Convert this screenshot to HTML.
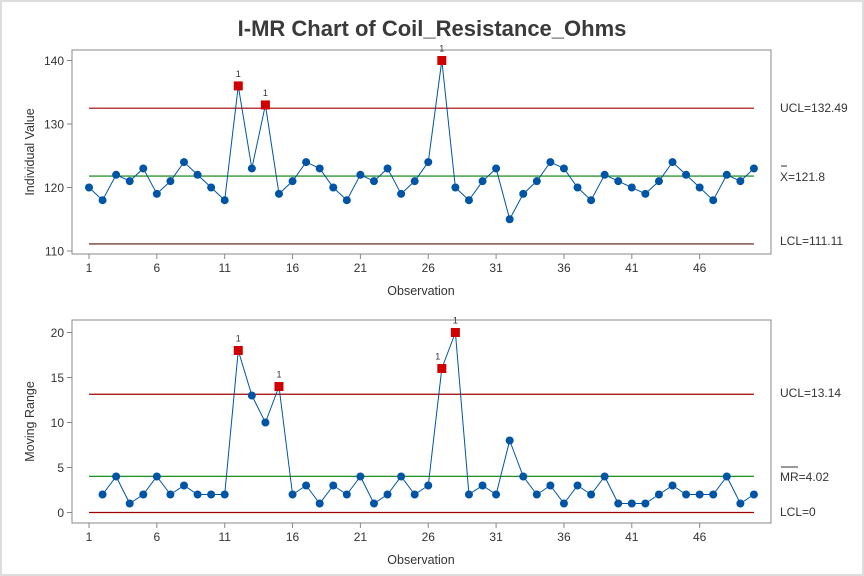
<!DOCTYPE html>
<html><head><meta charset="utf-8"><style>
html,body{margin:0;padding:0;background:#fff}
svg{display:block;font-family:"Liberation Sans",sans-serif}
</style></head><body>
<svg id="s" width="864" height="576" xmlns="http://www.w3.org/2000/svg">
<rect x="0" y="0" width="864" height="576" fill="#fff"/>
<rect x="1" y="1" width="862" height="574" fill="none" stroke="#ddd" stroke-width="2"/>
<text x="432" y="36" text-anchor="middle" font-size="22" font-weight="bold" fill="#3a3a3a">I-MR Chart of Coil_Resistance_Ohms</text>
</svg>
<script>
const s=document.getElementById('s');const NS='http://www.w3.org/2000/svg';
function el(t,a,txt){const e=document.createElementNS(NS,t);for(const k in a)e.setAttribute(k,a[k]);if(txt!==undefined)e.textContent=txt;s.appendChild(e);return e;}
const d=[120,118,122,121,123,119,121,124,122,120,118,136,123,133,119,121,124,123,120,118,122,121,123,119,121,124,140,120,118,121,123,115,119,121,124,123,120,118,122,121,120,119,121,124,122,120,118,122,121,123];
const X=i=>89+(i-1)*13.57;
const LR=771,LL=72;
function panel(top,bot,Y,ticks,vals,start,lim,ylab,out){
  el('rect',{x:LL,y:top,width:LR-LL,height:bot-top,fill:'none',stroke:'#888','stroke-width':1});
  ticks.forEach(t=>{const y=Y(t);el('line',{x1:LL-5,x2:LL,y1:y,y2:y,stroke:'#888'});el('text',{x:LL-8,y:y+4.5,'text-anchor':'end','font-size':12,fill:'#333'},t);});
  for(let i=1;i<=46;i+=5){const x=X(i);el('line',{x1:x,x2:x,y1:bot,y2:bot+5,stroke:'#888'});el('text',{x:x,y:bot+18,'text-anchor':'middle','font-size':12,fill:'#333'},i);}
  el('text',{x:421,y:bot+41,'text-anchor':'middle','font-size':12.5,fill:'#333'},'Observation');
  const cy=(top+bot)/2;el('text',{x:34,y:cy,'text-anchor':'middle','font-size':12.5,fill:'#333',transform:`rotate(-90 34 ${cy})`},ylab);
  lim.forEach(l=>{const y=Y(l[0]);el('line',{x1:X(1),x2:X(50),y1:y,y2:y,stroke:l[1],'stroke-width':1.2});});
  let p='';for(let i=start;i<=50;i++)p+=(p?'L':'M')+X(i)+' '+Y(vals[i-1]);
  el('path',{d:p,fill:'none',stroke:'#0054a6','stroke-width':1});
  for(let i=start;i<=50;i++){const x=X(i),y=Y(vals[i-1]);
    if(out.includes(i)){el('rect',{x:x-4.5,y:y-4.5,width:9,height:9,fill:'#d00000'});el('text',{x:i==27&&start==2?x-4:x,y:y-9,'text-anchor':'middle','font-size':9,fill:'#333'},'1');}
    else el('circle',{cx:x,cy:y,r:4,fill:'#0054a6'});}
}
const Y1=v=>251-(v-110)*6.35;
panel(50,254,Y1,[110,120,130,140],d,1,[[132.49,'#a00000'],[121.8,'#008000'],[111.11,'#5a1010']],'Individual Value',[12,14,27]);
const mr=d.map((v,i)=>i?Math.abs(v-d[i-1]):0);
const Y2=v=>512.5-v*9.0;
panel(320,523,Y2,[0,5,10,15,20],mr,2,[[13.14,'#a00000'],[4.02,'#008000'],[0,'#a00000']],'Moving Range',[12,15,27,28]);
function lab(x,y,t){el('text',{x:x,y:y,'font-size':12,fill:'#333'},t);}
lab(780,112,'UCL=132.49');lab(780,181,'X=121.8');el('line',{x1:781,x2:787,y1:166,y2:166,stroke:'#333'});
lab(780,245,'LCL=111.11');
lab(780,397,'UCL=13.14');lab(780,481,'MR=4.02');el('line',{x1:781,x2:798,y1:467,y2:467,stroke:'#333'});
lab(780,516,'LCL=0');
</script>
</body></html>
